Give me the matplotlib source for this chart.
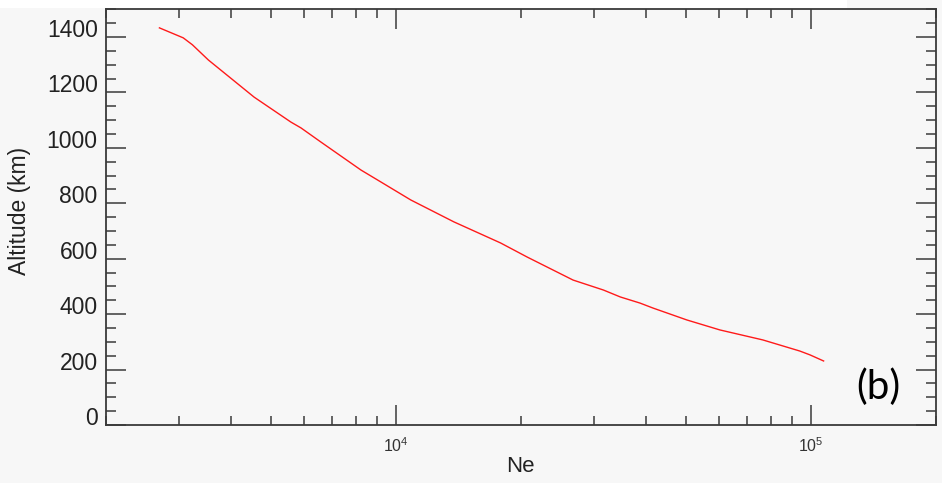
import matplotlib
matplotlib.use("Agg")
import matplotlib.pyplot as plt
import matplotlib.transforms as mtransforms
from matplotlib.patches import Rectangle
from matplotlib.ticker import FixedLocator, LogLocator, NullFormatter, FixedFormatter

plt.rcParams['font.family'] = ['Liberation Sans', 'DejaVu Sans']
plt.rcParams['mathtext.fontset'] = 'custom'
plt.rcParams['mathtext.rm'] = 'Liberation Sans'
plt.rcParams['mathtext.it'] = 'Liberation Sans'

# electron density profile
ne = [2690, 3070, 3230, 3530, 4550, 5580, 5900, 6590, 8230, 9190, 10850,
      13780, 17850, 20700, 26700, 31600, 34700, 38700, 41600, 50200, 60300,
      76500, 93900, 99400, 107200]
alt = [1433, 1397, 1372, 1317, 1183, 1093, 1072, 1021, 920, 877, 812,
       733, 657, 606, 523, 487, 462, 440, 422, 379, 343,
       307, 267, 253, 231]

ytick_vals = [0, 200, 400, 600, 800, 1000, 1200, 1400]
ytick_labels = ['0', '200', '400', '600', '800', '1000', '1200', '1400']
xtick_vals = [1e4, 1e5]
xtick_labels = [r'$10^4$', r'$10^5$']

fig = plt.figure(figsize=(9.42, 4.83), dpi=100, facecolor='#f7f7f7')
ax = fig.add_axes([106/942, 1-425/483, (936-106)/942, (425-9.3)/483])
ax.set_facecolor('#f7f7f7')

# white band along the top edge of the scan
fig.patches.append(Rectangle((0, 1-8/483), 847/942, 8/483, transform=fig.transFigure,
                             facecolor='white', edgecolor='none', zorder=0))

ax.plot(ne, alt, color='#ff1a1a', lw=1.0)

ax.set_xscale('log')
ax.set_xlim(2000, 200000)
ax.set_ylim(0, 1500)

ax.xaxis.set_major_locator(FixedLocator(xtick_vals))
ax.xaxis.set_major_formatter(FixedFormatter(xtick_labels))
ax.xaxis.set_minor_locator(LogLocator(base=10, subs=range(2, 10)))
ax.xaxis.set_minor_formatter(NullFormatter())

ax.yaxis.set_major_locator(FixedLocator(ytick_vals))
ax.yaxis.set_major_formatter(FixedFormatter(ytick_labels))
ax.yaxis.set_minor_locator(FixedLocator(range(0, 1501, 50)))

col = '#3a3a3a'
for s in ax.spines.values():
    s.set_color(col)
    s.set_linewidth(1.3)

ax.tick_params(which='both', direction='in', top=True, right=True, color=col, width=1.1)
ax.tick_params(axis='y', which='major', length=14.4, labelsize=16.5, pad=6, labelcolor='#222222')
ax.tick_params(axis='y', which='minor', length=7.2)
ax.tick_params(axis='x', which='major', length=14.4, labelsize=11.5, pad=8, labelcolor='#333333')
ax.tick_params(axis='x', which='minor', length=6.5)

# y labels sit a little above their ticks in the original
shift = mtransforms.ScaledTranslation(0, 9/100, fig.dpi_scale_trans)
for lab in ax.get_yticklabels():
    lab.set_transform(lab.get_transform() + shift)

ax.set_xlabel('Ne', fontsize=16, color='#222222')
ax.set_ylabel('Altitude (km)', fontsize=16.5, color='#222222')
ax.xaxis.set_label_coords((520-106)/830, (425-467)/415.7)
ax.yaxis.set_label_coords((20-106)/830, (425-211)/415.7)
ax.xaxis.label.set_va('center')
ax.yaxis.label.set_va('center')

fig.text(878/942, 1-387/483, '(b)', fontsize=29, family=['Lato', 'DejaVu Sans'],
         ha='center', va='center', color='black')

fig.savefig('out.png', dpi=100, facecolor=fig.get_facecolor())
